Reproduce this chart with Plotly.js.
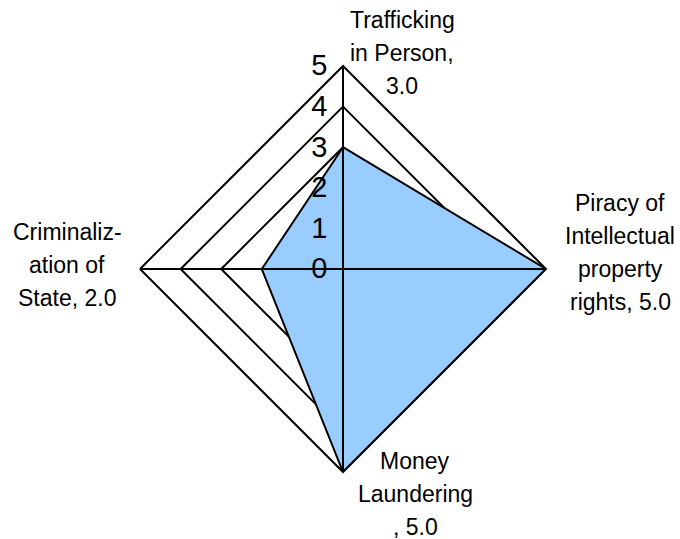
<!DOCTYPE html>
<html>
<head>
<meta charset="utf-8">
<script src="https://cdn.plot.ly/plotly-3.0.1.min.js"></script>
<style>
  html, body { margin: 0; padding: 0; background: #fff; }
  #radar-plot { width: 680px; height: 539px; }
</style>
</head>
<body>
<div id="radar-plot"></div>
<script>
// Radar chart of crime categories

const categories = ['Trafficking in Person', 'Piracy of Intellectual property rights', 'Money Laundering', 'Criminalization of State'];
const values = [3, 5, 5, 2];
// label text shown next to each vertex
const labelLines = [
    ['Trafficking', 'in Person,', '3.0'],
    ['Piracy of', 'Intellectual', 'property', 'rights, 5.0'],
    ['Money', 'Laundering', ', 5.0'],
    ['Criminaliz-', 'ation of', 'State, 2.0']
];
const radialTicks = [0, 1, 2, 3, 4, 5];

const FONT = 'Liberation Sans, Arial, sans-serif';
const W = 680;
const H = 539;
// where each label block sits (pixel centre of first line)
const labelPlaces = [
    { x: 402, y: 20 },
    { x: 620, y: 203 },
    { x: 415, y: 461 },
    { x: 67, y: 232 }
];
const LINE_STEP = 33;

function drawRadar() {
    const rMax = radialTicks[radialTicks.length - 1];

    const dataTrace = {
        type: 'scatterpolar',
        r: values.concat([values[0]]),
        theta: categories.concat([categories[0]]),
        mode: 'lines',
        fill: 'toself',
        fillcolor: '#99CCFF',
        line: { color: '#000', width: 2 },
        hoverinfo: 'skip'
    };

    // spokes drawn over the fill
    const spokeR = [];
    const spokeT = [];
    for (let i = 0; i < 2; i++) {
        spokeR.push(rMax, 0, rMax, null);
        spokeT.push(categories[i], categories[i], categories[i + 2], null);
    }
    const spokeTrace = {
        type: 'scatterpolar',
        r: spokeR,
        theta: spokeT,
        mode: 'lines',
        line: { color: '#000', width: 2 },
        hoverinfo: 'skip'
    };

    const annotations = [];
    labelLines.forEach((lines, i) => {
        lines.forEach((line, j) => {
            annotations.push({
                text: line,
                xref: 'paper',
                yref: 'paper',
                x: labelPlaces[i].x / W,
                y: 1 - (labelPlaces[i].y + j * LINE_STEP) / H,
                xanchor: 'center',
                yanchor: 'middle',
                showarrow: false,
                font: { size: 23, color: '#000', family: FONT }
            });
        });
    });

    const layout = {
        width: W,
        height: H,
        margin: { l: 0, r: 0, t: 0, b: 0 },
        paper_bgcolor: '#fff',
        showlegend: false,
        font: { family: FONT, color: '#000' },
        polar: {
            domain: { x: [140 / W, 546 / W], y: [67 / H, 473 / H] },
            bgcolor: 'rgba(0,0,0,0)',
            gridshape: 'linear',
            angularaxis: {
                type: 'category',
                categoryarray: categories,
                rotation: 90,
                direction: 'clockwise',
                showticklabels: false,
                ticks: '',
                showgrid: false,
                showline: true,
                linecolor: '#000',
                linewidth: 2
            },
            radialaxis: {
                range: [0, rMax],
                tickvals: radialTicks,
                angle: 90,
                side: 'counterclockwise',
                tickangle: 90,
                ticks: 'outside',
                ticklen: 5,
                tickcolor: 'rgba(0,0,0,0)',
                showline: false,
                layer: 'above traces',
                gridcolor: '#000',
                gridwidth: 2,
                tickfont: { size: 29, color: '#000', family: FONT }
            }
        },
        annotations: annotations
    };

    Plotly.newPlot('radar-plot', [dataTrace, spokeTrace], layout, { staticPlot: true });
}

drawRadar();
</script>
</body>
</html>
